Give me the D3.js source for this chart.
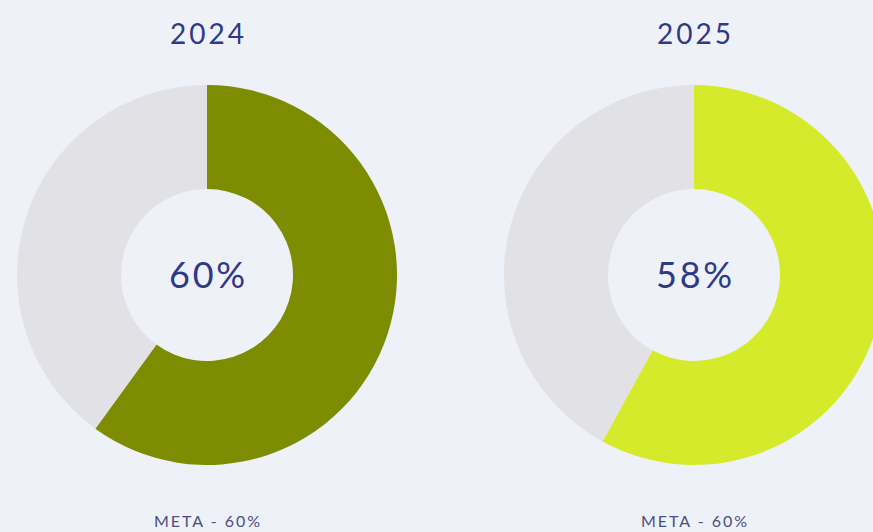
<!DOCTYPE html>
<html><head><meta charset="utf-8">
<script src="https://cdn.jsdelivr.net/npm/d3@7"></script>
<style>
html,body{margin:0;padding:0;background:#eef2f8;}
svg{display:block;}
</style></head>
<body>
<svg id="c" width="873" height="532"></svg>
<script>
const years = ["2024", "2025"];
const achieved = [60, 58];
const targetLabels = ["META - 60%", "META - 60%"];
const fillColors = ["#7d8c00", "#d5ea2a"];
const restColor = "#e1e1e6";

const svg = d3.select("#c");
const W = 873, H = 532;
svg.append("rect").attr("width", W).attr("height", H).attr("fill", "#eef2f8");

const x = d3.scalePoint().domain(years).range([207, 694]);
const cy = 275, R = 190, r = 86;
const pie = d3.pie().sort(null).value(d => d);
const arc = d3.arc().innerRadius(r).outerRadius(R);

years.forEach((y, i) => {
  const g = svg.append("g").attr("transform", `translate(${x(y)},${cy})`);
  const arcs = pie([achieved[i], 100 - achieved[i]]);
  g.selectAll("path").data(arcs).join("path")
    .attr("d", arc)
    .attr("fill", (d, j) => j === 0 ? fillColors[i] : restColor);
  g.append("text").attr("text-anchor", "middle").attr("y", 13).attr("dx", 1.5)
    .attr("font-family", "Lato, sans-serif").attr("font-size", 36)
    .attr("letter-spacing", 2.8)
    .attr("fill", "#2e3a86").text(achieved[i] + "%");
  svg.append("text").attr("x", x(y)).attr("y", 44).attr("dx", 1.5).attr("text-anchor", "middle")
    .attr("font-family", "Lato, sans-serif").attr("font-size", 28)
    .attr("letter-spacing", 3)
    .attr("fill", "#2e3a86").text(y);
  svg.append("text").attr("x", x(y)).attr("y", 527).attr("dx", 1).attr("text-anchor", "middle")
    .attr("font-family", "Lato, sans-serif").attr("font-size", 16)
    .attr("letter-spacing", 2)
    .attr("fill", "#4a5080").text(targetLabels[i]);
});
</script>
</body></html>
